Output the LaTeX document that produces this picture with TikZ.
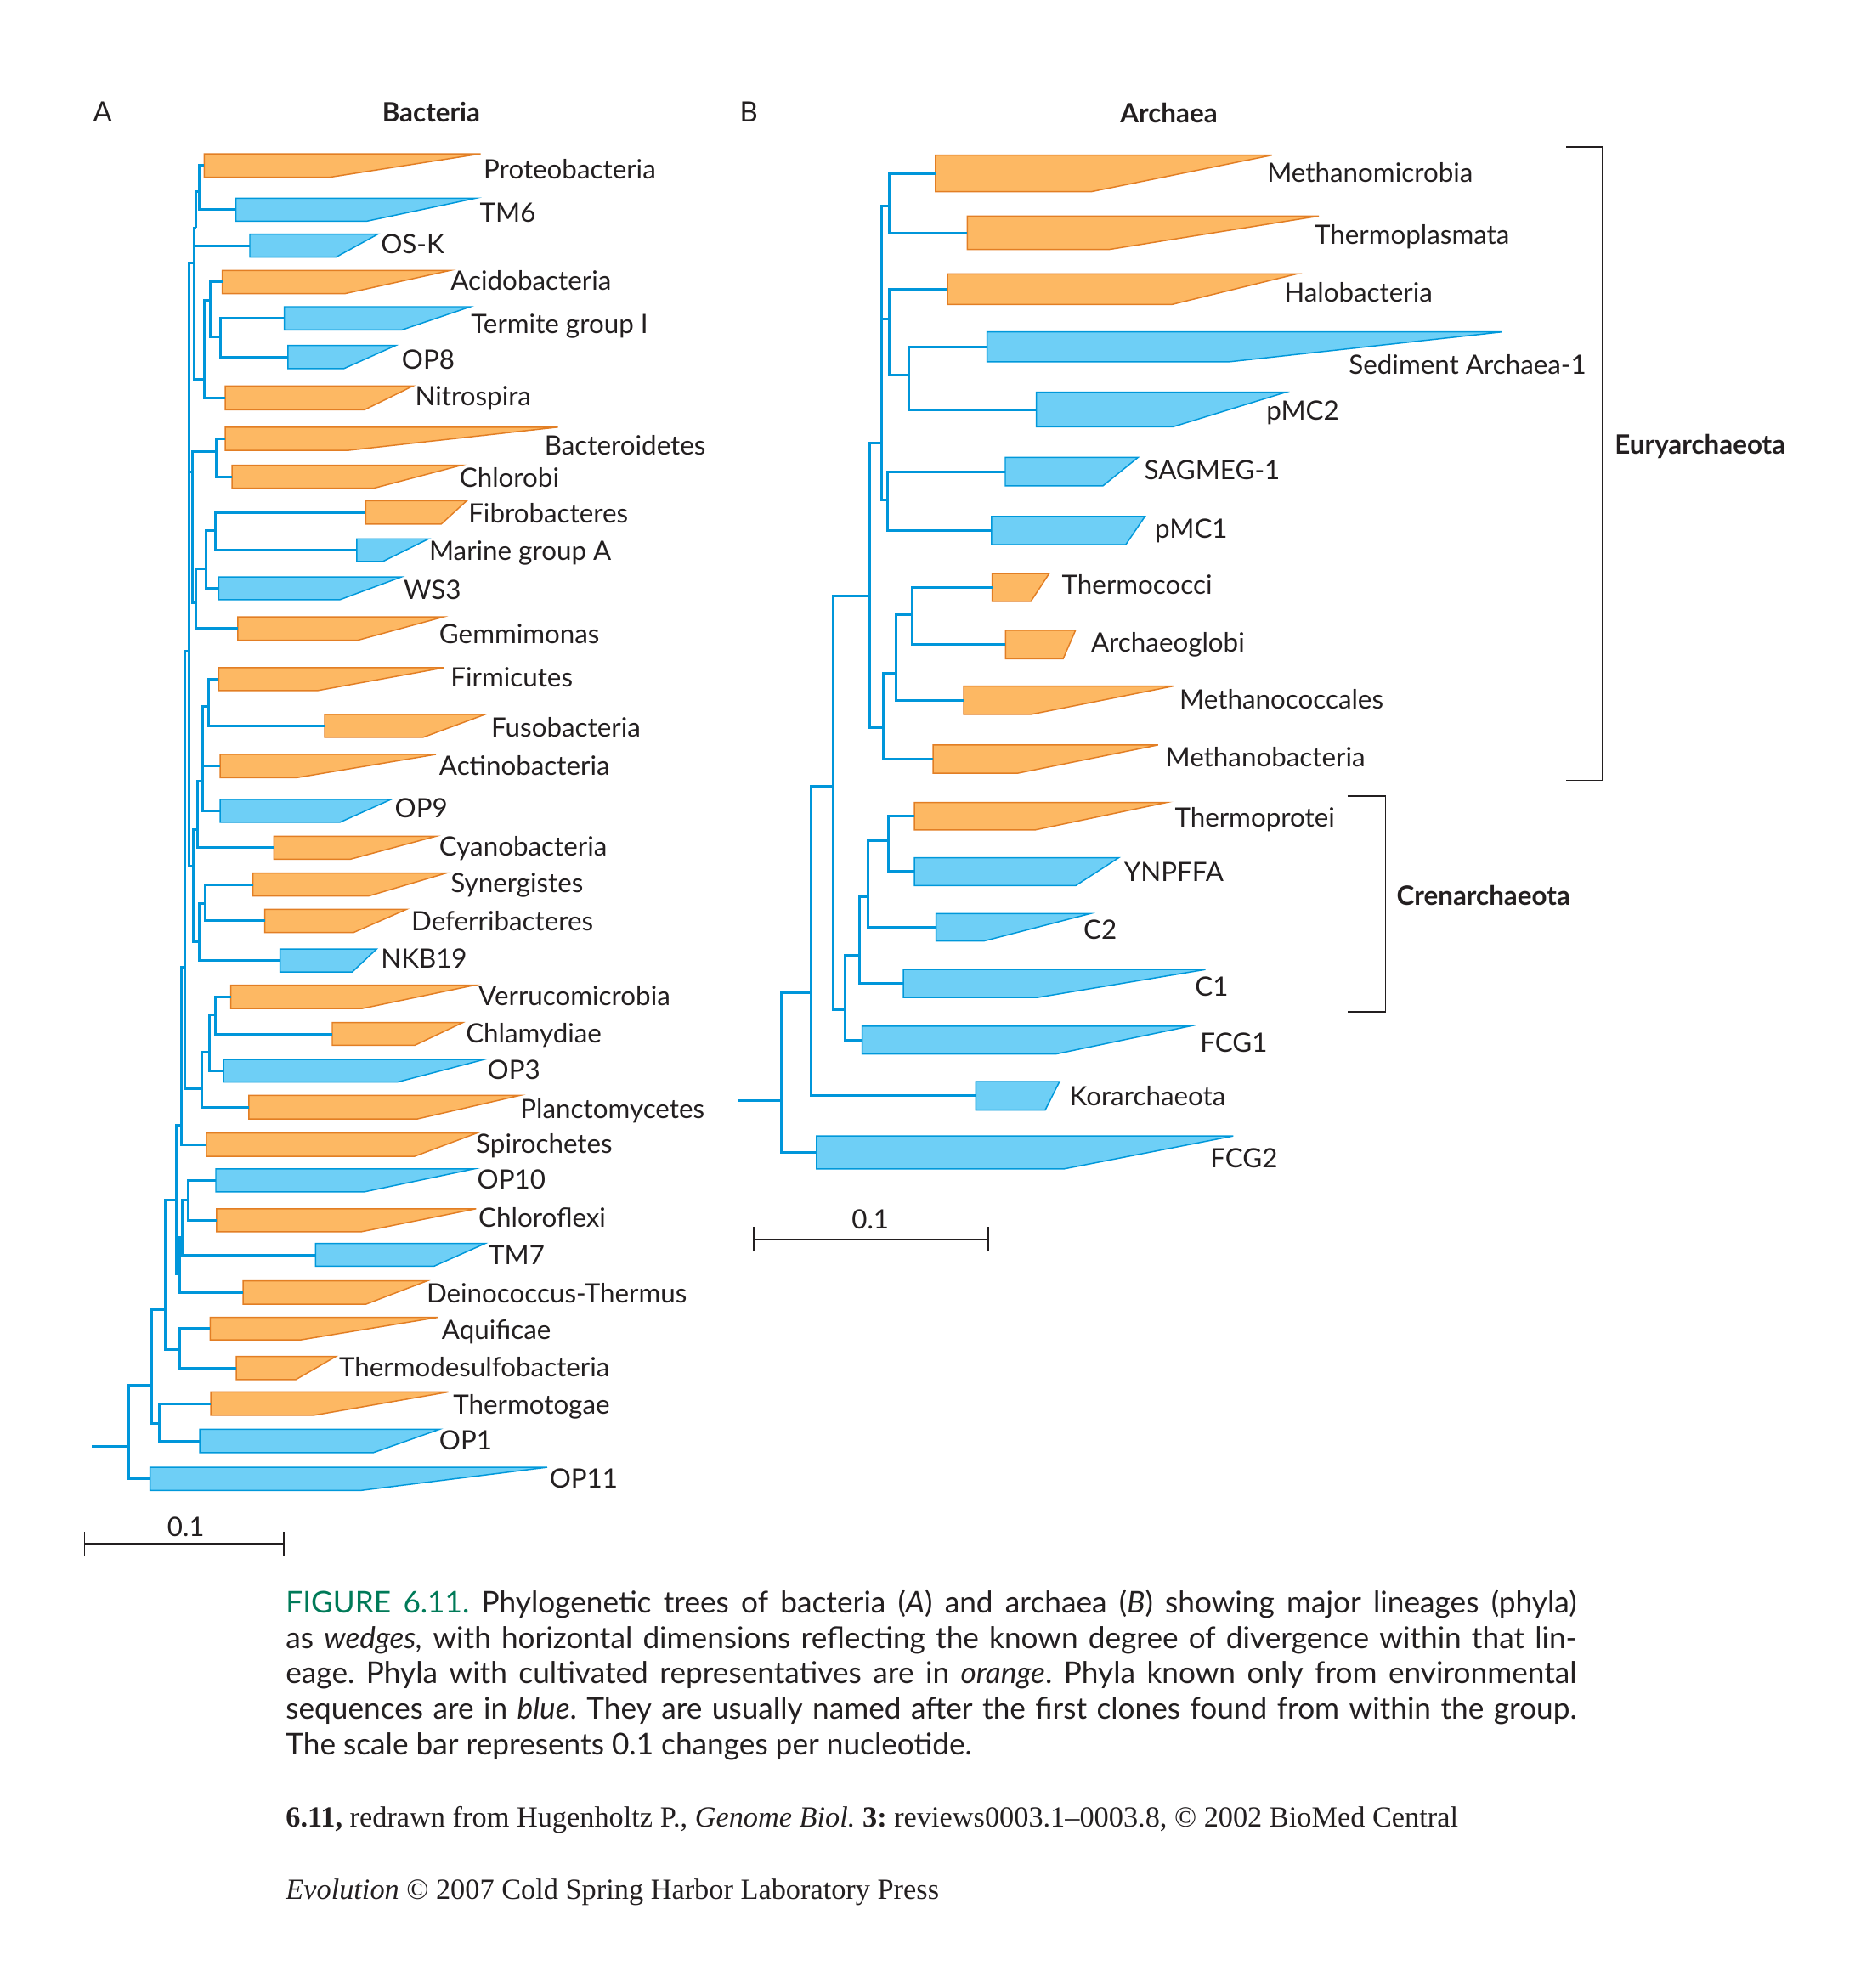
\documentclass[tikz,border=0pt]{standalone}
\usepackage{fontspec}
\setmainfont{Lato}
\newfontfamily\creditfont[Ligatures=TeX]{Liberation Serif}
\usepackage{xcolor}

\definecolor{wedgeorange}{RGB}{253,184,99}
\definecolor{edgeorange}{RGB}{226,126,36}
\definecolor{wedgeblue}{RGB}{110,207,246}
\definecolor{edgeblue}{RGB}{0,152,218}
\definecolor{treeblue}{RGB}{0,150,218}
\definecolor{figgreen}{RGB}{0,122,88}
\definecolor{inkgray}{RGB}{35,31,32}

% wedge: name, style, x0, ytop, ybottom, x bottom right, x tip, label pos, label
\newcommand{\phylum}[9]{%
  \draw[#2] (#3,#4) -- (#7,#4) -- (#6,#5) -- (#3,#5) -- cycle;
  \coordinate (#1) at (#3,{(#4+#5)/2});
  \node[taxon] (#1-l) at (#8) {#9};
}

\begin{document}
\frenchspacing
\begin{tikzpicture}[x=0.5pt,y=-0.5pt,line join=miter]
  \tikzstyle{cultured} = [draw=edgeorange,fill=wedgeorange,line width=0.5pt]
  \tikzstyle{uncultured} = [draw=edgeblue,fill=wedgeblue,line width=0.5pt]
  \tikzstyle{branch} = [draw=treeblue,line width=1pt]
  \tikzstyle{taxon} = [anchor=base west,inner sep=0pt,text=inkgray,font=\fontsize{10.5}{12}\selectfont]
  \tikzstyle{heading} = [anchor=base west,inner sep=0pt,text=inkgray,font=\fontsize{10.5}{12}\selectfont\bfseries]
  \tikzstyle{panel} = [anchor=base west,inner sep=0pt,text=inkgray,font=\fontsize{11}{12}\selectfont]
  \tikzstyle{bar} = [draw=inkgray,line width=0.6pt]
  \tikzstyle{capline} = [anchor=base west,inner sep=0pt,text=inkgray,font=\fontsize{11.8}{14}\selectfont]
  \tikzstyle{credit} = [anchor=base west,inner sep=0pt,text=inkgray,font=\creditfont\fontsize{11.5}{14}\selectfont]

  \useasboundingbox (0,0) rectangle (1476,1568);

  % headings
  \node[panel]   (pa) at (73,96)  {A};
  \node[heading] (ba) at (301,96) {Bacteria};
  \node[panel]   (pb) at (583,96) {B};
  \node[heading] (ar) at (883,97) {Archaea};

  % ---------------- A: Bacteria ----------------
  \phylum{proteo}{cultured}{161}{121.3}{139.8}{260}{379}{381,141}{Proteobacteria}
  \phylum{tmsix}{uncultured}{186}{156.4}{174.5}{289}{375}{378,175}{TM6}
  \phylum{osk}{uncultured}{197}{184.7}{202.8}{265}{298}{300,200}{OS-K}
  \phylum{acido}{cultured}{175.3}{213.3}{231.6}{272}{355}{355,228.5}{Acidobacteria}
  \phylum{termite}{uncultured}{224.3}{241.9}{260.2}{317}{371}{371,263}{Termite group I}
  \phylum{opeight}{uncultured}{227}{272.5}{290.8}{271}{312}{316.5,291}{OP8}
  \phylum{nitro}{cultured}{177.6}{304.5}{323.2}{287.5}{325.5}{327,320}{Nitrospira}
  \phylum{bactero}{cultured}{177.6}{336.9}{355.2}{274.6}{440}{429,359}{Bacteroidetes}
  \phylum{chlorobi}{cultured}{183}{366.9}{385}{295}{364}{362,384.5}{Chlorobi}
  \phylum{fibro}{cultured}{288.4}{395}{413.3}{348}{368}{369,412.5}{Fibrobacteres}
  \phylum{marine}{uncultured}{281.3}{425}{442.8}{302}{338}{338,442}{Marine group A}
  \phylum{wsthree}{uncultured}{172.4}{455.1}{473}{268}{316.4}{318,472.5}{WS3}
  \phylum{gemm}{cultured}{187.6}{486.6}{505}{282}{349.6}{346,507.5}{Gemmimonas}
  \phylum{firm}{cultured}{172.4}{526.6}{544.7}{250.4}{350.3}{355,542}{Firmicutes}
  \phylum{fuso}{cultured}{256}{563.5}{581.6}{333.5}{382.5}{387,581}{Fusobacteria}
  \phylum{actino}{cultured}{173.7}{595}{613.3}{234.3}{343.8}{346,611.5}{Actinobacteria}
  \phylum{opnine}{uncultured}{173.7}{630.5}{648.6}{268}{308.4}{311,645}{OP9}
  \phylum{cyano}{cultured}{216}{659.6}{677.7}{276.2}{343.8}{346,675}{Cyanobacteria}
  \phylum{synerg}{cultured}{199.5}{688.6}{706.7}{290.7}{352}{355,704}{Synergistes}
  \phylum{deferri}{cultured}{208.8}{717.2}{735.5}{278.8}{320.6}{324,734}{Deferribacteres}
  \phylum{nkb}{uncultured}{220.8}{748.5}{766.6}{277.8}{297}{300,763.5}{NKB19}
  \phylum{verruco}{cultured}{182}{777}{795.4}{285.8}{374.4}{377,793}{Verrucomicrobia}
  \phylum{chlamy}{cultured}{262}{806.6}{824.5}{327}{364.8}{367,822.5}{Chlamydiae}
  \phylum{opthree}{uncultured}{176.3}{835.6}{853.5}{313.2}{382}{384,851}{OP3}
  \phylum{plancto}{cultured}{196.3}{864}{882.5}{329.3}{410}{410,882}{Planctomycetes}
  \phylum{spiro}{cultured}{162.8}{893.7}{912}{327}{376}{375,909.5}{Spirochetes}
  \phylum{opten}{uncultured}{170.2}{922}{940}{287.5}{373.5}{376,938}{OP10}
  \phylum{chloroflexi}{cultured}{170.8}{953.4}{971.5}{285}{375.4}{377,968}{Chloroflexi}
  \phylum{tmseven}{uncultured}{248.8}{980.8}{998.7}{342.2}{382.5}{385,997.5}{TM7}
  \phylum{deino}{cultured}{191.8}{1010.3}{1028.7}{288.4}{336.7}{336,1027.5}{Deinococcus-Thermus}
  \phylum{aquif}{cultured}{165.7}{1039}{1056.8}{237}{345.4}{348,1056.5}{Aquificae}
  \phylum{thermodes}{cultured}{186.3}{1069.8}{1088.1}{233.3}{265}{267,1086}{Thermodesulfobacteria}
  \phylum{thermotog}{cultured}{166.3}{1097.9}{1116.2}{247.8}{353.5}{357,1115.5}{Thermotogae}
  \phylum{opone}{uncultured}{157.6}{1127.4}{1145.7}{294.5}{346.4}{346,1143.5}{OP1}
  \phylum{opeleven}{uncultured}{118.3}{1157.3}{1175.6}{284.2}{431.5}{433,1173.5}{OP11}

  \coordinate (n1) at (157,150.8);
  \coordinate (n2) at (154.7,179.8);
  \coordinate (n3) at (173.7,265.4);
  \coordinate (n4) at (165.7,236.8);
  \coordinate (n5) at (161.1,299.3);
  \coordinate (n6) at (152.8,207.7);
  \coordinate (n7) at (170.8,355.9);
  \coordinate (n8) at (169.8,418.6);
  \coordinate (n9) at (162.6,448.4);
  \coordinate (n10) at (154.2,475.7);
  \coordinate (n11) at (151.9,372);
  \coordinate (f1) at (164.2,557.1);
  \coordinate (f2) at (159.8,616);
  \coordinate (f3) at (156,654.3);
  \coordinate (f4) at (161.5,712.7);
  \coordinate (f5) at (157.1,742.5);
  \coordinate (f6) at (152.6,683.3);
  \coordinate (u1) at (149.2,513.4);
  \coordinate (p1) at (169.8,800.6);
  \coordinate (p2) at (165.3,829.7);
  \coordinate (p3) at (159.1,858.8);
  \coordinate (u2) at (145.9,763);
  \coordinate (u3) at (143,887.2);
  \coordinate (oc) at (148.3,946.2);
  \coordinate (oct) at (144,975.9);
  \coordinate (ocd) at (141.5,1005);
  \coordinate (u4) at (139.2,946.2);
  \coordinate (aqt) at (141.5,1064.6);
  \coordinate (nd) at (130.5,1032.9);
  \coordinate (tgo) at (125.4,1122.7);
  \coordinate (ne) at (119.3,1092.5);
  \coordinate (rootA) at (101.5,1140.6);
  \coordinate (stemA) at (72.5,1140.6);

  \path[branch] (n1) |- (proteo) (n1) |- (tmsix);
  \path[branch] (n2) |- (n1);
  \path[branch] (n3) |- (termite) (n3) |- (opeight);
  \path[branch] (n4) |- (acido) (n4) |- (n3);
  \path[branch] (n5) |- (n4) (n5) |- (nitro);
  \path[branch] (n6) |- (n2) (n6) |- (osk) (n6) |- (n5);
  \path[branch] (n7) |- (bactero) (n7) |- (chlorobi);
  \path[branch] (n8) |- (fibro) (n8) |- (marine);
  \path[branch] (n9) |- (n8) (n9) |- (wsthree);
  \path[branch] (n10) |- (n9) (n10) |- (gemm);
  \path[branch] (n11) |- (n7) (n11) |- (n10);
  \path[branch] (f1) |- (firm) (f1) |- (fuso);
  \path[branch] (f2) |- (f1) (f2) |- (actino) (f2) |- (opnine);
  \path[branch] (f3) |- (f2) (f3) |- (cyano);
  \path[branch] (f4) |- (synerg) (f4) |- (deferri);
  \path[branch] (f5) |- (f4) (f5) |- (nkb);
  \path[branch] (f6) |- (f3) (f6) |- (f5);
  \path[branch] (u1) |- (n6) (u1) |- (n11) (u1) |- (f6);
  \path[branch] (p1) |- (verruco) (p1) |- (chlamy);
  \path[branch] (p2) |- (p1) (p2) |- (opthree);
  \path[branch] (p3) |- (p2) (p3) |- (plancto);
  \path[branch] (u2) |- (u1) (u2) |- (p3);
  \path[branch] (u3) |- (u2) (u3) |- (spiro);
  \path[branch] (oc) |- (opten) (oc) |- (chloroflexi);
  \path[branch] (oct) |- (oc) (oct) |- (tmseven);
  \path[branch] (ocd) |- (oct) (ocd) |- (deino);
  \path[branch] (u4) |- (u3) (u4) |- (ocd);
  \path[branch] (aqt) |- (aquif) (aqt) |- (thermodes);
  \path[branch] (nd) |- (u4) (nd) |- (aqt);
  \path[branch] (tgo) |- (thermotog) (tgo) |- (opone);
  \path[branch] (ne) |- (nd) (ne) |- (tgo);
  \path[branch] (rootA) |- (ne) (rootA) |- (opeleven);
  \path[branch] (stemA) -- (rootA);

  % scale bar A
  \coordinate (sa1) at (66.7,1217.6);
  \coordinate (sa2) at (223.7,1217.6);
  \path[bar] (sa1) -- (sa2);
  \path[bar] ([yshift=-4.75pt]sa1) -- ([yshift=4.75pt]sa1);
  \path[bar] ([yshift=-4.75pt]sa2) -- ([yshift=4.75pt]sa2);
  \node[taxon,anchor=base] (sal) at (146.6,1212) {0.1};

  % ---------------- B: Archaea ----------------
  \phylum{methanomic}{cultured}{737.6}{122.4}{151.2}{860.6}{1003}{998.9,144}{Methanomicrobia}
  \phylum{thermoplas}{cultured}{762.8}{170.4}{196.8}{874.4}{1040}{1036.3,192.5}{Thermoplasmata}
  \phylum{halo}{cultured}{747.3}{216}{240.1}{924.3}{1022.8}{1012.3,238.5}{Halobacteria}
  \phylum{sediment}{uncultured}{778.3}{261.8}{285.3}{970}{1184.6}{1063.3,295.5}{Sediment Archaea-1}
  \phylum{pmctwo}{uncultured}{817.3}{309.4}{336.6}{925.1}{1013.8}{998.3,331.5}{pMC2}
  \phylum{sagmeg}{uncultured}{792.7}{360.8}{383.2}{869.7}{897.4}{902,378.5}{SAGMEG-1}
  \phylum{pmcone}{uncultured}{781.9}{407.3}{429.6}{887.7}{902.9}{910.4,424.5}{pMC1}
  \phylum{thermococ}{cultured}{782.4}{452.4}{474.3}{812.9}{827.3}{837,468.5}{Thermococci}
  \phylum{archaeog}{cultured}{793}{497.1}{519.5}{838.4}{848.1}{860,514}{Archaeoglobi}
  \phylum{methanococ}{cultured}{760}{541.1}{563.5}{812.9}{925.6}{929.8,559}{Methanococcales}
  \phylum{methanobac}{cultured}{735.9}{587.6}{609.9}{802.4}{913.2}{918.7,605}{Methanobacteria}
  \phylum{thermoprot}{cultured}{721.1}{632.9}{654.6}{816.2}{920.2}{926,652}{Thermoprotei}
  \phylum{ynpffa}{uncultured}{721.1}{676.5}{698.4}{848.4}{882.2}{886,695}{YNPFFA}
  \phylum{ctwo}{uncultured}{738.2}{720.6}{742.2}{775.9}{859.7}{854,741}{C2}
  \phylum{cone}{uncultured}{712.4}{764.7}{786.8}{817.8}{950.5}{942,786}{C1}
  \phylum{fcgone}{uncultured}{679.9}{809.3}{831.4}{832.3}{938.6}{946,830}{FCG1}
  \phylum{korarch}{uncultured}{769.5}{853.1}{875.5}{824.2}{835.5}{843,872}{Korarchaeota}
  \phylum{fcgtwo}{uncultured}{643.8}{896}{922}{838.7}{972.5}{954,921}{FCG2}

  \coordinate (e1) at (701.3,162.6);
  \coordinate (e2) at (716.5,296);
  \coordinate (e3) at (701.3,251.3);
  \coordinate (e4) at (699.9,394.3);
  \coordinate (e5) at (694.9,349.6);
  \coordinate (e6) at (719.6,484.8);
  \coordinate (e7) at (706.3,531.1);
  \coordinate (e8) at (696.6,574.2);
  \coordinate (eury) at (685.5,470.3);
  \coordinate (c1) at (700.8,663.2);
  \coordinate (c2) at (684.7,707);
  \coordinate (c3) at (677.6,753.2);
  \coordinate (cren) at (666.4,796.3);
  \coordinate (nc) at (657.3,619.9);
  \coordinate (nab) at (639.9,783);
  \coordinate (rootB) at (616.4,867.9);
  \coordinate (stemB) at (582.6,867.9);

  \path[branch] (e1) |- (methanomic) (e1) |- (thermoplas);
  \path[branch] (e2) |- (sediment) (e2) |- (pmctwo);
  \path[branch] (e3) |- (halo) (e3) |- (e2);
  \path[branch] (e4) |- (sagmeg) (e4) |- (pmcone);
  \path[branch] (e5) |- (e1) (e5) |- (e3) (e5) |- (e4);
  \path[branch] (e6) |- (thermococ) (e6) |- (archaeog);
  \path[branch] (e7) |- (e6) (e7) |- (methanococ);
  \path[branch] (e8) |- (e7) (e8) |- (methanobac);
  \path[branch] (eury) |- (e5) (eury) |- (e8);
  \path[branch] (c1) |- (thermoprot) (c1) |- (ynpffa);
  \path[branch] (c2) |- (c1) (c2) |- (ctwo);
  \path[branch] (c3) |- (c2) (c3) |- (cone);
  \path[branch] (cren) |- (c3) (cren) |- (fcgone);
  \path[branch] (nc) |- (eury) (nc) |- (cren);
  \path[branch] (nab) |- (nc) (nab) |- (korarch);
  \path[branch] (rootB) |- (nab) (rootB) |- (fcgtwo);
  \path[branch] (stemB) -- (rootB);

  % group brackets
  \coordinate (eu1) at (1235,116);
  \coordinate (eu2) at (1264,116);
  \coordinate (eu3) at (1264,615.5);
  \coordinate (eu4) at (1235,615.5);
  \path[bar] (eu1) -- (eu2) -- (eu3) -- (eu4);
  \node[heading] (eul) at (1273,358) {Euryarchaeota};
  \coordinate (cr1) at (1062.7,628);
  \coordinate (cr2) at (1092.5,628);
  \coordinate (cr3) at (1092.5,798);
  \coordinate (cr4) at (1062.7,798);
  \path[bar] (cr1) -- (cr2) -- (cr3) -- (cr4);
  \node[heading] (crl) at (1101,714) {Crenarchaeota};

  % scale bar B
  \coordinate (sb1) at (594.5,977.5);
  \coordinate (sb2) at (779.5,977.5);
  \path[bar] (sb1) -- (sb2);
  \path[bar] ([yshift=-4.8pt]sb1) -- ([yshift=4.8pt]sb1);
  \path[bar] ([yshift=-4.8pt]sb2) -- ([yshift=4.8pt]sb2);
  \node[taxon,anchor=base] (sbl) at (686.3,969) {0.1};

  % caption
  \node[capline] (cap1) at (225,1272) {\makebox[509pt][s]{\textcolor{figgreen}{FIGURE 6.11.} Phylogenetic trees of bacteria (\textit{A}) and archaea (\textit{B}) showing major lineages (phyla)}};
  \node[capline] (cap2) at (225,1300) {\makebox[509pt][s]{as \textit{wedges,} with horizontal dimensions reflecting the known degree of divergence within that lin-}};
  \node[capline] (cap3) at (225,1328) {\makebox[509pt][s]{eage. Phyla with cultivated representatives are in \textit{orange}. Phyla known only from environmental}};
  \node[capline] (cap4) at (225,1356) {\makebox[509pt][s]{sequences are in \textit{blue}. They are usually named after the first clones found from within the group.}};
  \node[capline] (cap5) at (225,1384) {The scale bar represents 0.1 changes per nucleotide.};
  \node[credit] (src) at (225,1441) {\textbf{6.11,} redrawn from Hugenholtz P., \textit{Genome Biol.} \textbf{3:} reviews0003.1–0003.8, © 2002 BioMed Central};
  \node[credit] (pub) at (225,1498) {\textit{Evolution} © 2007 Cold Spring Harbor Laboratory Press};
\end{tikzpicture}
\end{document}
